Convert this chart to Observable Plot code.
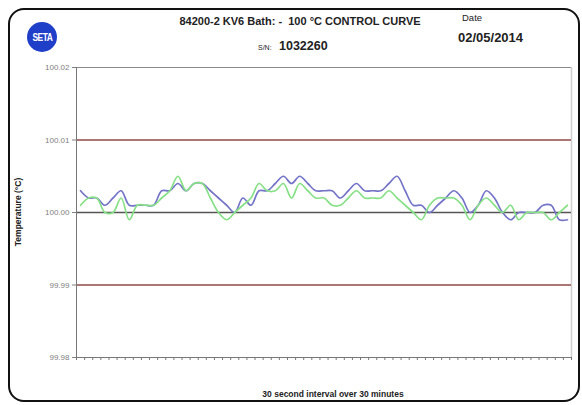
<!DOCTYPE html>
<html><head><meta charset="utf-8">
<script src="https://cdn.jsdelivr.net/npm/d3@7"></script>
<script src="https://cdn.jsdelivr.net/npm/@observablehq/plot@0.6"></script>
<style>
body{margin:0;background:#fff;font-family:"Liberation Sans",Arial,sans-serif;}
#wrap{position:relative;width:582px;height:405px;overflow:hidden;}
#frame{position:absolute;left:8px;top:8px;width:572px;height:394px;border:2px solid #111;border-radius:16px;box-sizing:border-box;}
.t{position:absolute;line-height:1;white-space:nowrap;color:#222;}
#logo{position:absolute;left:27px;top:22px;width:30px;height:30px;border-radius:50%;background:#1f3fc8;color:#fff;font-weight:bold;font-size:10.5px;display:flex;align-items:center;justify-content:center;letter-spacing:-0.6px;}
#logo span{display:inline-block;transform:scaleX(0.8);}
#chart{position:absolute;left:0;top:0;}
</style></head>
<body>
<div id="wrap">
<div id="frame"></div>
<div id="logo"><span>SETA</span></div>
<div class="t" style="left:300px;top:16px;font-size:11px;font-weight:bold;transform:translateX(-50%);">84200-2 KV6 Bath: -&nbsp; 100 °C CONTROL CURVE</div>
<div class="t" style="left:462px;top:13px;font-size:9.5px;">Date</div>
<div class="t" style="left:458px;top:31px;font-size:13px;font-weight:bold;">02/05/2014</div>
<div class="t" style="left:258px;top:44px;font-size:7px;">S/N:</div>
<div class="t" style="left:279px;top:40px;font-size:12.5px;font-weight:bold;">1032260</div>
<div id="chart"></div>
<div class="t" style="left:18px;top:212px;font-size:8.5px;font-weight:bold;transform:translate(-50%,-50%) rotate(-90deg);">Temperature (°C)</div>
<div class="t" style="left:333px;top:390px;font-size:8.5px;font-weight:bold;transform:translateX(-50%);">30 second interval over 30 minutes</div>
</div>
<script>
// readings every 30 s over 30 minutes (61 readings)
const readings = d3.range(61);
const blue = [
  100.003,100.002,100.002,100.001,100.002,100.003,100.001,100.001,100.001,100.001,
  100.003,100.003,100.004,100.003,100.004,100.004,100.003,100.002,100.001,100.000,
  100.002,100.001,100.003,100.003,100.004,100.005,100.004,100.005,100.004,100.003,
  100.003,100.003,100.002,100.003,100.004,100.003,100.003,100.003,100.004,100.005,
  100.003,100.001,100.001,100.000,100.001,100.002,100.003,100.002,100.000,100.001,
  100.003,100.002,100.000,99.999,100.000,100.000,100.000,100.001,100.001,99.999,99.999
];
const green = [
  100.001,100.002,100.002,100.000,100.000,100.002,99.999,100.001,100.001,100.001,
  100.002,100.003,100.005,100.003,100.004,100.004,100.002,100.000,99.999,100.000,
  100.001,100.002,100.004,100.003,100.003,100.004,100.002,100.004,100.003,100.002,
  100.002,100.001,100.001,100.002,100.003,100.002,100.002,100.002,100.003,100.002,
  100.001,100.000,99.999,100.001,100.002,100.002,100.002,100.001,99.999,100.001,
  100.002,100.001,100.000,100.001,99.999,100.000,100.000,100.000,99.999,100.000,100.001
];
const yTicks = [99.98, 99.99, 100.00, 100.01, 100.02];
const redLimits = [99.99, 100.01];
const setPoint = [100.00];
const xTicks = d3.range(-0.5, 61, 1);

const data = readings.map(i => ({i, blue: blue[i], green: green[i]}));

const plot = Plot.plot({
  width: 582, height: 405,
  marginLeft: 76, marginRight: 11, marginTop: 67, marginBottom: 48,
  style: {background: "transparent", fontFamily: "Liberation Sans, Arial, sans-serif"},
  x: {domain: [-0.5, 60.5], axis: null},
  y: {domain: [99.98, 100.02], axis: null},
  marks: [
    Plot.ruleY([100.02], {stroke: "#8a8a8a"}),
    Plot.ruleX([60.5], {stroke: "#cfcfcf", strokeWidth: 1.5}),
    Plot.ruleY(redLimits, {stroke: "#8e4848", strokeWidth: 1.3}),
    Plot.ruleY(setPoint, {stroke: "#555", strokeWidth: 1.3}),
    Plot.line(data, {x: "i", y: "blue", curve: "catmull-rom", stroke: "#7474c8", strokeWidth: 1.7}),
    Plot.line(data, {x: "i", y: "green", curve: "catmull-rom", stroke: "#86e086", strokeWidth: 1.7}),
    Plot.ruleX([-0.5], {stroke: "#777"}),
    Plot.ruleY([99.98], {stroke: "#777"}),
    Plot.axisY({ticks: yTicks, tickFormat: d => d.toFixed(2), tickSize: 4, tickPadding: 3, fontSize: 8, color: "#808080", label: null}),
    Plot.axisX({ticks: xTicks, tickSize: 3, tickFormat: () => "", label: null, color: "#777"})
  ]
});
document.getElementById("chart").appendChild(plot);
</script>
</body></html>
